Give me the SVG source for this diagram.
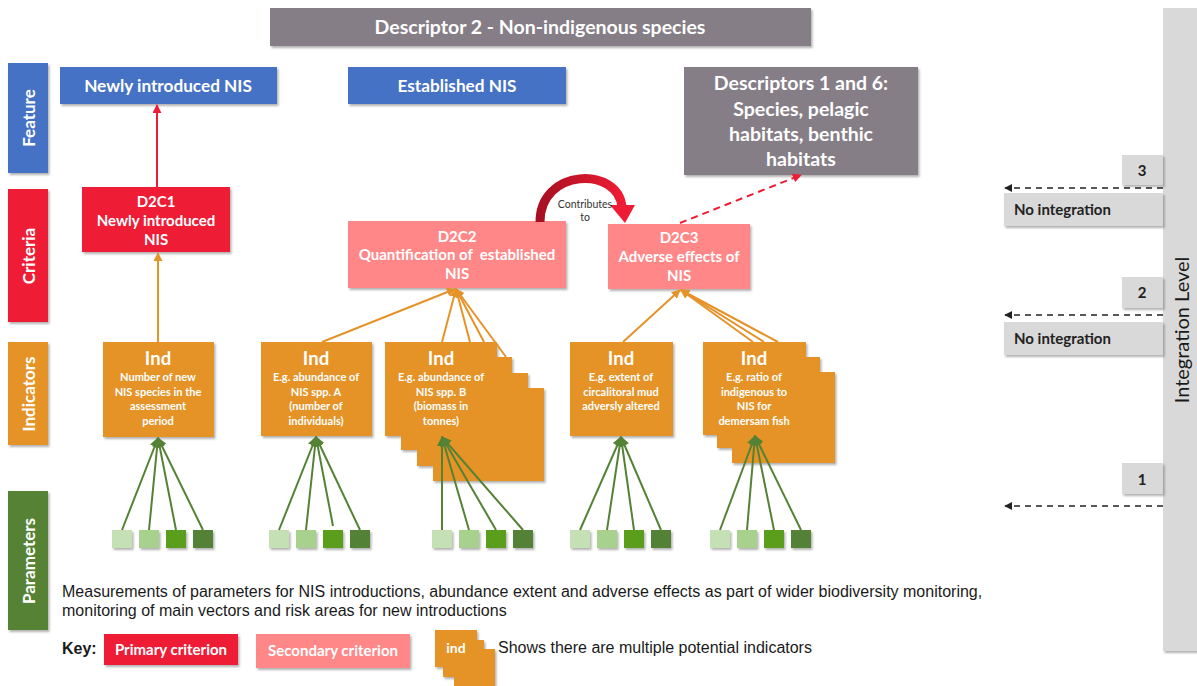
<svg xmlns="http://www.w3.org/2000/svg" width="1197" height="686" viewBox="0 0 1197 686">
<defs>
<style>
.t{font-family:Lato,"Liberation Sans",sans-serif;font-weight:bold;fill:#fff;text-anchor:middle}
.lbl{font-family:Lato,"Liberation Sans",sans-serif;font-weight:bold;fill:#fff;font-size:17px;text-anchor:middle}
.ind{fill:#E59328}
.blue{fill:#4472C4}
.red{fill:#EE1C34}
.pink{fill:#FF8787}
.grey{fill:#857E87}
.lg{fill:#D9D9D9}
.body{font-family:"Liberation Sans",Arial,sans-serif;font-size:16px;fill:#1a1a1a}
.oline{stroke:#E59328;stroke-width:2;fill:none}
.gline{stroke:#548235;stroke-width:2;fill:none}
.p1{fill:#C5E0B4}.p2{fill:#A9D18E}.p3{fill:#5A9E1E}.p4{fill:#538135}
.dash{stroke:#222;stroke-width:1.6;stroke-dasharray:6 5;fill:none}
.gt{font-family:Lato,"Liberation Sans",sans-serif;font-weight:bold;fill:#222}
</style>
<filter id="sh" x="-10%" y="-10%" width="130%" height="130%">
<feDropShadow dx="1.5" dy="2" stdDeviation="1.2" flood-color="#000" flood-opacity="0.3"/>
</filter>
<marker id="ao" viewBox="0 0 10 10" refX="9" refY="5" markerWidth="9" markerHeight="9" markerUnits="userSpaceOnUse" orient="auto"><path d="M0,0 L10,5 L0,10 z" fill="#E59328"/></marker>
<marker id="ag" viewBox="0 0 10 10" refX="9" refY="5" markerWidth="10" markerHeight="10" markerUnits="userSpaceOnUse" orient="auto"><path d="M0,0 L10,5 L0,10 z" fill="#548235"/></marker>
<marker id="ar" viewBox="0 0 10 10" refX="9" refY="5" markerWidth="9" markerHeight="9" markerUnits="userSpaceOnUse" orient="auto"><path d="M0,0 L10,5 L0,10 z" fill="#EE1C34"/></marker>
<marker id="ak" viewBox="0 0 10 10" refX="9" refY="5" markerWidth="8" markerHeight="8" markerUnits="userSpaceOnUse" orient="auto"><path d="M0,0 L10,5 L0,10 z" fill="#222"/></marker>
<linearGradient id="cg" x1="0" y1="0" x2="1" y2="0"><stop offset="0" stop-color="#A80F22"/><stop offset="1" stop-color="#EE1C34"/></linearGradient>
</defs>
<rect width="1197" height="686" fill="#fff"/>

<g id="title"><rect class="grey" x="270" y="8" width="541" height="38" filter="url(#sh)"/>
<text class="t" x="540" y="34" font-size="19.5">Descriptor 2 - Non-indigenous species</text></g>

<g id="label-feature"><rect class="blue" x="8" y="63" width="40" height="110" filter="url(#sh)"/><text class="lbl" transform="translate(35,118) rotate(-90)">Feature</text></g>
<g id="label-criteria"><rect class="red" x="8" y="189" width="40" height="133" filter="url(#sh)"/><text class="lbl" transform="translate(35,256) rotate(-90)">Criteria</text></g>
<g id="label-indicators"><rect class="ind" x="8" y="342" width="40" height="103" filter="url(#sh)"/><text class="lbl" transform="translate(35,394) rotate(-90)">Indicators</text></g>
<g id="label-parameters"><rect x="8" y="491" width="40" height="139" fill="#548235" filter="url(#sh)"/><text class="lbl" transform="translate(35,561) rotate(-90)">Parameters</text></g>

<g id="feat-new"><rect class="blue" x="60" y="67" width="217" height="37" filter="url(#sh)"/><text class="t" x="168" y="92" font-size="17.2">Newly introduced NIS</text></g>
<g id="feat-est"><rect class="blue" x="348" y="67" width="218" height="37" filter="url(#sh)"/><text class="t" x="457" y="92" font-size="17.2">Established NIS</text></g>
<g id="desc16"><rect class="grey" x="684" y="67" width="234" height="108" filter="url(#sh)"/>
<text class="t" x="801" y="90" font-size="19.5">Descriptors 1 and 6:</text>
<text class="t" x="801" y="116" font-size="19.5">Species, pelagic</text>
<text class="t" x="801" y="141" font-size="19.5">habitats, benthic</text>
<text class="t" x="801" y="166" font-size="19.5">habitats</text></g>

<g id="d2c1"><rect class="red" x="82" y="187" width="148" height="65" filter="url(#sh)"/>
<text class="t" x="156" y="207" font-size="15">D2C1</text>
<text class="t" x="156" y="226" font-size="15">Newly introduced</text>
<text class="t" x="156" y="245" font-size="15">NIS</text></g>
<g id="d2c2"><rect class="pink" x="348" y="221" width="218" height="67" filter="url(#sh)"/>
<text class="t" x="457" y="242" font-size="15">D2C2</text>
<text class="t" x="457" y="260" font-size="15" xml:space="preserve">Quantification of  established</text>
<text class="t" x="457" y="279" font-size="15">NIS</text></g>
<g id="d2c3"><rect class="pink" x="608" y="224" width="142" height="65" filter="url(#sh)"/>
<text class="t" x="679" y="243" font-size="15">D2C3</text>
<text class="t" x="679" y="262" font-size="15">Adverse effects of</text>
<text class="t" x="679" y="281" font-size="15">NIS</text></g>

<g id="ind1"><rect class="ind" x="103" y="342" width="111" height="95" filter="url(#sh)"/>
<text class="t" x="158" y="365" font-size="18.5">Ind</text>
<text class="t" x="158" y="381" font-size="11">Number of new</text>
<text class="t" x="158" y="395.5" font-size="11">NIS species in the</text>
<text class="t" x="158" y="410" font-size="11">assessment</text>
<text class="t" x="158" y="424.5" font-size="11">period</text></g>
<g id="ind2"><rect class="ind" x="261" y="342" width="111" height="94" filter="url(#sh)"/>
<text class="t" x="316" y="365" font-size="18.5">Ind</text>
<text class="t" x="316" y="381" font-size="11">E.g. abundance of</text>
<text class="t" x="316" y="395.5" font-size="11">NIS spp. A</text>
<text class="t" x="316" y="410" font-size="11">(number of</text>
<text class="t" x="316" y="424.5" font-size="11">individuals)</text></g>
<g id="ind3"><g filter="url(#sh)">
<rect class="ind" x="433" y="388" width="111" height="93"/>
<rect class="ind" x="417" y="373" width="111" height="93"/>
<rect class="ind" x="401" y="357" width="111" height="93"/>
<rect class="ind" x="385" y="342" width="112" height="94"/></g>
<text class="t" x="441" y="365" font-size="18.5">Ind</text>
<text class="t" x="441" y="381" font-size="11">E.g. abundance of</text>
<text class="t" x="441" y="395.5" font-size="11">NIS spp. B</text>
<text class="t" x="441" y="410" font-size="11">(biomass in</text>
<text class="t" x="441" y="424.5" font-size="11">tonnes)</text></g>
<g id="ind4"><rect class="ind" x="570" y="342" width="103" height="94" filter="url(#sh)"/>
<text class="t" x="621" y="365" font-size="18.5">Ind</text>
<text class="t" x="621" y="381" font-size="11">E.g. extent of</text>
<text class="t" x="621" y="395.5" font-size="11">circalitoral mud</text>
<text class="t" x="621" y="410" font-size="11">adversly altered</text></g>
<g id="ind5"><g filter="url(#sh)">
<rect class="ind" x="732" y="372" width="103" height="91"/>
<rect class="ind" x="717" y="357" width="103" height="91"/>
<rect class="ind" x="703" y="342" width="103" height="93"/></g>
<text class="t" x="754" y="365" font-size="18.5">Ind</text>
<text class="t" x="754" y="381" font-size="11">E.g. ratio of</text>
<text class="t" x="754" y="395.5" font-size="11">indigenous to</text>
<text class="t" x="754" y="410" font-size="11">NIS for</text>
<text class="t" x="754" y="424.5" font-size="11">demersam fish</text></g>

<g id="params" filter="url(#sh)">
<rect class="p1" x="112" y="530" width="20" height="18"/><rect class="p2" x="139" y="530" width="20" height="18"/><rect class="p3" x="166" y="530" width="20" height="18"/><rect class="p4" x="193" y="530" width="20" height="18"/>
<rect class="p1" x="269" y="530" width="20" height="18"/><rect class="p2" x="296" y="530" width="20" height="18"/><rect class="p3" x="323" y="530" width="20" height="18"/><rect class="p4" x="350" y="530" width="20" height="18"/>
<rect class="p1" x="432" y="530" width="20" height="18"/><rect class="p2" x="459" y="530" width="20" height="18"/><rect class="p3" x="486" y="530" width="20" height="18"/><rect class="p4" x="513" y="530" width="20" height="18"/>
<rect class="p1" x="570" y="530" width="20" height="18"/><rect class="p2" x="597" y="530" width="20" height="18"/><rect class="p3" x="624" y="530" width="20" height="18"/><rect class="p4" x="651" y="530" width="20" height="18"/>
<rect class="p1" x="710" y="530" width="20" height="18"/><rect class="p2" x="737" y="530" width="20" height="18"/><rect class="p3" x="764" y="530" width="20" height="18"/><rect class="p4" x="791" y="530" width="20" height="18"/>
</g>

<g id="connectors">
<line x1="157" y1="187" x2="157" y2="105" stroke="#EE1C34" stroke-width="2" marker-end="url(#ar)"/>
<line x1="158" y1="342" x2="158" y2="253" class="oline" marker-end="url(#ao)"/>
<line x1="322" y1="342" x2="455" y2="289" class="oline" marker-end="url(#ao)"/>
<line x1="442" y1="342" x2="456" y2="289" class="oline" marker-end="url(#ao)"/>
<line x1="470" y1="342" x2="456" y2="289" class="oline" marker-end="url(#ao)"/>
<line x1="484" y1="342" x2="456" y2="289" class="oline" marker-end="url(#ao)"/>
<line x1="506" y1="357" x2="456" y2="289" class="oline" marker-end="url(#ao)"/>
<line x1="623" y1="342" x2="680" y2="290" class="oline" marker-end="url(#ao)"/>
<line x1="753" y1="342" x2="681" y2="290" class="oline" marker-end="url(#ao)"/>
<line x1="764" y1="342" x2="681" y2="290" class="oline" marker-end="url(#ao)"/>
<line x1="778" y1="342" x2="681" y2="290" class="oline" marker-end="url(#ao)"/>
<path d="M540 222 C540 168 618 166 622 207" stroke="url(#cg)" stroke-width="9" fill="none"/>
<polygon points="610,205 635,205 625,223" fill="#EE1C34"/>
<text x="585" y="208" font-family="Lato,'Liberation Sans',sans-serif" font-size="10.5" fill="#333" text-anchor="middle">Contributes</text>
<text x="585" y="221" font-family="Lato,'Liberation Sans',sans-serif" font-size="10.5" fill="#333" text-anchor="middle">to</text>
<line x1="680" y1="223" x2="801" y2="175" stroke="#EE1C34" stroke-width="2" stroke-dasharray="7 5" marker-end="url(#ar)"/>

<g class="gline">
<line x1="122" y1="530" x2="158" y2="438" marker-end="url(#ag)"/><line x1="149" y1="530" x2="158" y2="438" marker-end="url(#ag)"/><line x1="176" y1="530" x2="158" y2="438" marker-end="url(#ag)"/><line x1="203" y1="530" x2="158" y2="438" marker-end="url(#ag)"/>
<line x1="279" y1="530" x2="316" y2="437" marker-end="url(#ag)"/><line x1="306" y1="530" x2="316" y2="437" marker-end="url(#ag)"/><line x1="333" y1="526" x2="316" y2="437" marker-end="url(#ag)"/><line x1="360" y1="530" x2="316" y2="437" marker-end="url(#ag)"/>
<line x1="442" y1="530" x2="442" y2="437" marker-end="url(#ag)"/><line x1="469" y1="530" x2="442" y2="437" marker-end="url(#ag)"/><line x1="496" y1="530" x2="442" y2="437" marker-end="url(#ag)"/><line x1="523" y1="530" x2="442" y2="437" marker-end="url(#ag)"/>
<line x1="580" y1="530" x2="621" y2="437" marker-end="url(#ag)"/><line x1="607" y1="530" x2="621" y2="437" marker-end="url(#ag)"/><line x1="634" y1="530" x2="621" y2="437" marker-end="url(#ag)"/><line x1="661" y1="530" x2="621" y2="437" marker-end="url(#ag)"/>
<line x1="720" y1="530" x2="755" y2="436" marker-end="url(#ag)"/><line x1="747" y1="530" x2="755" y2="436" marker-end="url(#ag)"/><line x1="774" y1="530" x2="755" y2="436" marker-end="url(#ag)"/><line x1="801" y1="530" x2="755" y2="436" marker-end="url(#ag)"/>
</g>

<line x1="1163" y1="188" x2="1005" y2="188" class="dash" marker-end="url(#ak)"/>
<line x1="1163" y1="315" x2="1005" y2="315" class="dash" marker-end="url(#ak)"/>
<line x1="1163" y1="506" x2="1005" y2="506" class="dash" marker-end="url(#ak)"/>
</g>

<g id="integration">
<rect class="lg" x="1163" y="8" width="40" height="643" filter="url(#sh)"/>
<text transform="translate(1189,330) rotate(-90)" font-family="Lato,'Liberation Sans',sans-serif" font-size="20" fill="#1a1a1a" text-anchor="middle">Integration Level</text>
</g>
<g id="lvl3"><rect class="lg" x="1122" y="155" width="41" height="30" filter="url(#sh)"/><text class="gt" x="1142" y="176" font-size="15" text-anchor="middle">3</text></g>
<g id="noint3"><rect class="lg" x="1004" y="193" width="159" height="33" filter="url(#sh)"/><text class="gt" x="1014" y="215" font-size="15">No integration</text></g>
<g id="lvl2"><rect class="lg" x="1122" y="277" width="41" height="31" filter="url(#sh)"/><text class="gt" x="1142" y="298" font-size="15" text-anchor="middle">2</text></g>
<g id="noint2"><rect class="lg" x="1004" y="322" width="159" height="33" filter="url(#sh)"/><text class="gt" x="1014" y="344" font-size="15">No integration</text></g>
<g id="lvl1"><rect class="lg" x="1122" y="463" width="41" height="31" filter="url(#sh)"/><text class="gt" x="1142" y="485" font-size="15" text-anchor="middle">1</text></g>

<g id="description">
<text class="body" x="62" y="597">Measurements of parameters for NIS introductions, abundance extent and adverse effects as part of wider biodiversity monitoring,</text>
<text class="body" x="62" y="616">monitoring of main vectors and risk areas for new introductions</text>
</g>

<g id="key">
<text x="62" y="654" font-family="'Liberation Sans',Arial,sans-serif" font-weight="bold" font-size="16" fill="#1a1a1a">Key:</text>
<rect class="red" x="104" y="634" width="134" height="31" filter="url(#sh)"/>
<text class="t" x="171" y="655" font-size="15">Primary criterion</text>
<rect class="pink" x="256" y="634" width="154" height="34" filter="url(#sh)"/>
<text class="t" x="333" y="656" font-size="15">Secondary criterion</text>
<g filter="url(#sh)">
<rect class="ind" x="454" y="649" width="41" height="37"/>
<rect class="ind" x="443" y="640" width="41" height="37"/>
<rect class="ind" x="435" y="630" width="42" height="37"/></g>
<text class="t" x="456" y="653" font-size="14">ind</text>
<text class="body" x="498" y="653">Shows there are multiple potential indicators</text>
</g>
</svg>
